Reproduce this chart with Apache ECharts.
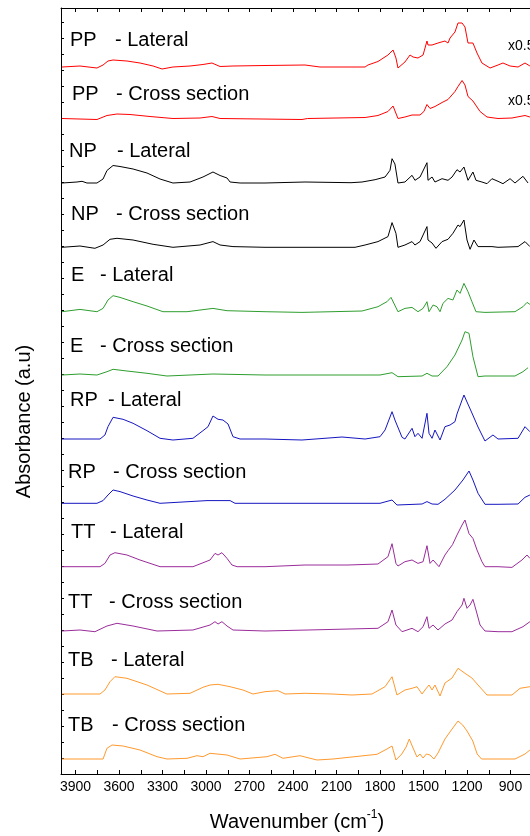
<!DOCTYPE html>
<html>
<head>
<meta charset="utf-8">
<script src="https://cdn.jsdelivr.net/npm/echarts@6/dist/echarts.min.js"></script>
<style>
html,body{margin:0;padding:0;background:#fff;}
#chart{width:530px;height:836px;}
</style>
</head>
<body>
<div id="chart"></div>
<script>
// x ticks / axis
const xMin = 600, xMax = 4000, xTickStep = 150, xLabelStep = 300;
// names
const sampleNames = ['PP', 'PP', 'NP', 'NP', 'E', 'E', 'RP', 'RP', 'TT', 'TT', 'TB', 'TB'];
const sampleViews = ['- Lateral', '- Cross section', '- Lateral', '- Cross section', '- Lateral', '- Cross section',
  '- Lateral', '- Cross section', '- Lateral', '- Cross section', '- Lateral', '- Cross section'];
const colors = ['#ff0000', '#ff0000', '#000000', '#000000', '#2e9e2e', '#2e9e2e',
  '#1515c0', '#1515c0', '#9a2c9a', '#9a2c9a', '#ff992e', '#ff992e'];
// vertical offsets of each trace (a.u.)
const offsets = [707, 655.5, 591, 526.7, 462.3, 399, 335, 270.7, 207.3, 143, 80, 15];
const scaleNotes = ['x0.5', 'x0.5'];

// spectra: [wavenumber, absorbance above own baseline]
const ppLateral = [[3993,0],[3869,1],[3752,-1],[3710,2],[3676,6],[3641,7],[3545,6],[3455,4],[3365,1],[3303,-2],[3228,0],[3110,1],[3021,2.5],[2959,4],[2903,0.5],[2814,1],[2593,1.5],[2317,2],[2214,0],[1903,0],[1883,2],[1814,5.5],[1745,12],[1710,17],[1690,9],[1676,-1],[1628,5],[1593,12],[1572,10],[1538,9],[1503,12],[1476,26],[1469,22],[1441,22],[1400,24],[1352,26],[1331,24],[1317,29],[1283,35],[1262,44],[1234,44],[1214,40],[1193,24],[1159,24],[1131,14],[1097,4],[1041,-1],[986,2],[952,4],[903,1],[848,0],[800,4],[766,1]];
const ppCross = [[3993,0],[3752,-1],[3683,3],[3614,4.5],[3524,4],[3386,2],[3228,0],[3041,0.5],[2959,2],[2903,0],[2338,-1],[2300,0],[1903,1],[1814,3],[1745,7],[1710,12.5],[1676,0],[1628,1.5],[1579,3.5],[1524,3.5],[1497,7],[1476,14],[1455,10],[1421,12],[1372,16],[1331,19],[1283,27],[1262,32],[1234,38],[1214,33.5],[1193,22],[1159,17.5],[1110,7],[1062,1.5],[986,0],[890,0.5],[800,3],[766,1.5]];
const npLateral = [[3993,0],[3890,1],[3855,1.7],[3821,0],[3752,0],[3710,4],[3683,12.5],[3641,17.5],[3593,16.5],[3503,14],[3407,10],[3317,4],[3228,0],[3110,1],[3021,6],[2952,11],[2903,7.5],[2855,5],[2834,1],[2765,0],[2593,0],[2317,1],[2000,0.3],[1924,1],[1834,3.3],[1765,6],[1731,12.7],[1717,24.3],[1697,19],[1676,0],[1628,1],[1579,7.7],[1559,2.7],[1524,6],[1476,20.3],[1469,2.7],[1441,6],[1421,1],[1372,4.3],[1331,2.7],[1303,6],[1269,13.3],[1248,11],[1221,16],[1193,2.7],[1159,11],[1138,2.7],[1097,1],[1062,-0.7],[1028,4.3],[986,1.7],[952,-0.7],[903,4.3],[869,0],[814,6.7],[779,0]];
const npCross = [[3993,0],[3869,1.3],[3766,-1],[3710,2.3],[3662,8],[3614,9],[3503,7.3],[3365,3],[3228,0],[3041,2.3],[2952,5.7],[2903,2.3],[2814,0.7],[2593,0],[1972,0],[1903,2.3],[1814,5.7],[1745,10.7],[1717,24.7],[1690,14],[1676,0],[1628,2.3],[1579,5.7],[1559,2.3],[1524,5.7],[1476,20.7],[1469,7.3],[1441,4.3],[1414,-1],[1372,5.7],[1331,8],[1297,14],[1262,22.3],[1248,20.7],[1221,27.3],[1200,7.3],[1179,-2],[1152,7.3],[1124,0.7],[1028,0.7],[986,0],[848,0.7],[800,5.7],[766,0.7]];
const eLateral = [[3993,0],[3869,2.3],[3752,0],[3710,3.3],[3676,11.7],[3641,16],[3593,14.3],[3503,10],[3407,5.7],[3297,0],[3131,0],[2952,3.3],[2855,1],[2593,0],[2338,-0.7],[1924,0.7],[1814,5],[1752,10],[1724,14.3],[1676,0],[1628,3.3],[1579,4.3],[1538,0],[1503,3.3],[1476,10],[1462,0],[1434,6.7],[1407,5],[1386,0],[1366,8.3],[1331,13.3],[1297,11.7],[1269,21.7],[1248,18.3],[1221,28.3],[1193,20],[1166,10],[1138,0],[1076,-0.7],[869,0],[814,5],[786,9.3],[766,7.3]];
const eCross = [[3993,0],[3869,1],[3752,0],[3683,3.3],[3641,5.7],[3545,4],[3407,1.7],[3269,-1],[2952,1],[2593,0],[1800,0],[1717,2.3],[1676,-1.7],[1510,-1],[1476,1.7],[1441,-1],[1400,-1],[1338,8.3],[1283,20],[1234,35],[1214,43.3],[1186,41.7],[1159,18.3],[1124,-1.7],[1076,-1],[869,-1],[814,3.3],[779,7.3]];
const rpLateral = [[3993,0],[3731,0],[3697,4],[3676,12.3],[3641,21.7],[3572,19.7],[3503,15.7],[3407,8.3],[3317,0.7],[3228,-1],[3090,0.7],[3021,8.3],[2986,12.3],[2952,23],[2917,19.7],[2883,19],[2848,15],[2814,2.3],[2765,0],[2593,0],[2338,-1],[2062,2],[1903,0],[1800,2.3],[1765,9],[1717,27.3],[1697,19],[1648,1.7],[1628,0],[1579,10.7],[1559,2.3],[1538,5.7],[1510,0.7],[1476,25.7],[1462,5.7],[1441,0.7],[1421,9],[1386,-1],[1352,12.3],[1317,14],[1283,17.3],[1269,25],[1234,39],[1221,44],[1200,37],[1166,26],[1124,12],[1076,-2],[1021,4],[986,0],[848,0.7],[800,12.3],[766,7.3]];
const rpCross = [[3993,0],[3752,0],[3710,2.7],[3676,8.3],[3641,13.3],[3593,11.7],[3503,7.3],[3407,3.3],[3317,0],[2993,2.7],[2834,2.7],[2800,0],[2593,0],[1800,0],[1717,3.3],[1683,-1.7],[1510,-0.7],[1476,1.7],[1441,-0.7],[1400,-1],[1352,4],[1283,13.3],[1228,23.3],[1186,32.3],[1159,23.3],[1124,10],[1076,-1],[986,-1],[848,-0.7],[800,6],[766,8.3]];
const ttLateral = [[3993,0],[3731,0],[3697,3.3],[3662,11.7],[3628,14],[3545,11.7],[3455,6.7],[3317,0],[3090,0],[2972,6.7],[2938,13.3],[2917,11.7],[2890,14],[2855,8.3],[2821,1.7],[2786,0],[2593,0],[2317,1.7],[2021,1.7],[1814,2.7],[1745,10],[1717,23],[1690,3.3],[1676,0.7],[1628,5],[1579,6.7],[1538,3.3],[1503,5],[1476,21],[1455,3.3],[1434,6.7],[1393,0],[1352,11.7],[1331,16],[1300,22],[1269,31.7],[1234,41.7],[1214,46.7],[1186,33],[1159,28.3],[1131,16.7],[1097,5],[1076,0],[986,0],[890,-0.7],[821,6.7],[786,11.7],[766,8.3]];
const ttCross = [[3993,0],[3869,1],[3766,-0.7],[3683,5],[3614,7.7],[3503,5],[3338,0],[3090,1],[2972,6],[2938,9.3],[2917,7],[2890,9.3],[2855,5],[2814,1],[2593,0],[2297,1],[1814,2.7],[1745,9.3],[1717,21],[1690,6],[1648,-0.7],[1579,2.7],[1538,-0.7],[1503,4.3],[1476,14.3],[1462,2.7],[1434,6],[1400,1],[1352,7],[1303,11],[1269,19.3],[1234,26],[1221,32.7],[1200,22.7],[1179,26],[1159,31.7],[1138,21],[1110,6],[1076,0],[986,-0.7],[890,-0.7],[814,4.3],[766,9.3]];
const tbLateral = [[3993,0],[3731,0],[3697,4],[3662,12.3],[3628,17.3],[3545,15.7],[3407,9],[3269,0],[3110,0.7],[3021,6.7],[2972,9],[2917,9.7],[2834,7.3],[2745,4],[2676,0],[2593,2.3],[2503,3.3],[2455,0],[2317,0.7],[2131,0],[1993,-1],[1855,0],[1765,7.3],[1717,17.3],[1683,-1],[1628,4],[1579,5.7],[1545,7.3],[1510,0],[1490,4],[1462,9],[1441,4],[1421,9],[1386,-2],[1352,11],[1303,16],[1262,25.7],[1214,20.7],[1166,16],[1124,9],[1062,-1],[986,-1],[890,-1],[834,5.7],[766,7.3]];
const tbCross = [[3993,0],[3710,0],[3683,10.7],[3648,14],[3572,13],[3455,9],[3338,2.3],[3269,0],[3131,0.7],[3062,3.3],[3021,2.3],[2972,5.7],[2855,4],[2765,0],[2579,2.3],[2524,4.7],[2469,0.7],[2352,3.3],[2317,2],[2234,-1],[2124,0],[1821,4.7],[1752,10],[1717,13],[1690,-1],[1650,5],[1620,12],[1598,20],[1572,11],[1545,2],[1524,5],[1503,1],[1480,5],[1455,4],[1428,0],[1400,6],[1352,20],[1303,30],[1262,38],[1230,34],[1200,28],[1160,18],[1130,5],[1100,0],[986,0],[869,0],[800,5],[766,9]];

const spectra = [ppLateral, ppCross, npLateral, npCross, eLateral, eCross, rpLateral, rpCross, ttLateral, ttCross, tbLateral, tbCross];

// label layout (pixels)
const labelNameX = [70, 72, 69, 71, 71, 70, 70, 68, 71, 68, 68, 68];
const labelViewX = [115, 116, 117, 116, 100, 100, 108, 113, 110, 109, 111, 112];
const labelY = [40, 94.5, 151, 214.5, 275, 346, 400, 472.5, 532.5, 602, 660, 725.5];
const noteY = [45.7, 100.8];

const chart = echarts.init(document.getElementById('chart'), null, {renderer: 'canvas'});
const FONT = '"Liberation Sans", Arial, sans-serif';

const series = spectra.map((s, i) => ({
  type: 'line',
  name: sampleNames[i] + ' ' + sampleViews[i],
  data: s.map(p => [p[0], offsets[i] + p[1]]),
  showSymbol: false,
  symbol: 'none',
  lineStyle: {width: 1, color: colors[i]},
  itemStyle: {color: colors[i]},
  animation: false,
  clip: true
}));

const graphics = [];
spectra.forEach((s, i) => {
  graphics.push({type: 'text', x: labelNameX[i], y: labelY[i], silent: true,
    style: {text: sampleNames[i], fontSize: 20, fontFamily: FONT, fill: '#000', verticalAlign: 'middle', align: 'left'}});
  graphics.push({type: 'text', x: labelViewX[i], y: labelY[i], silent: true,
    style: {text: sampleViews[i], fontSize: 20, fontFamily: FONT, fill: '#000', verticalAlign: 'middle', align: 'left'}});
});
scaleNotes.forEach((t, i) => {
  graphics.push({type: 'text', x: 508, y: noteY[i], silent: true,
    style: {text: t, fontSize: 14, fontFamily: FONT, fill: '#000', verticalAlign: 'middle', align: 'left'}});
});
graphics.push({type: 'text', x: 24, y: 421.5, rotation: Math.PI / 2, silent: true,
  style: {text: 'Absorbance (a.u)', fontSize: 20, fontFamily: FONT, fill: '#000', verticalAlign: 'middle', align: 'center'}});
graphics.push({type: 'text', x: 297, y: 820.5, silent: true,
  style: {text: '{a|Wavenumber (cm}{s|-1}{a|)}', fontSize: 20, fontFamily: FONT, fill: '#000', verticalAlign: 'middle', align: 'center',
    rich: {a: {fontSize: 20, fontFamily: FONT, fill: '#000', lineHeight: 24, verticalAlign: 'bottom'},
           s: {fontSize: 12, fontFamily: FONT, fill: '#000', lineHeight: 24, verticalAlign: 'top'}}}});

const axisCommon = {
  type: 'value', min: xMin, max: xMax, interval: xTickStep, inverse: true,
  splitLine: {show: false},
  axisLine: {show: true, onZero: false, lineStyle: {color: '#000', width: 1}},
  axisTick: {show: true, inside: true, length: 4, lineStyle: {color: '#000'}}
};

chart.setOption({
  backgroundColor: '#fff',
  animation: false,
  grid: {left: 61, right: -24, top: 8, bottom: 62, containLabel: false, outerBoundsMode: 'none'},
  xAxis: [
    Object.assign({}, axisCommon, {position: 'bottom',
      axisLabel: {show: true, fontSize: 14, fontFamily: FONT, color: '#000', margin: 6, showMaxLabel: false,
        formatter: v => (v % xLabelStep === 0 ? String(v) : '')}}),
    Object.assign({}, axisCommon, {position: 'top', axisLabel: {show: false}})
  ],
  yAxis: {
    type: 'value', min: 0, max: 766, interval: 16,
    splitLine: {show: false},
    axisLabel: {show: false},
    axisLine: {show: true, lineStyle: {color: '#000', width: 1}},
    axisTick: {show: true, inside: true, length: 3, lineStyle: {color: '#000'}}
  },
  series: series,
  graphic: graphics
});
</script>
</body>
</html>
